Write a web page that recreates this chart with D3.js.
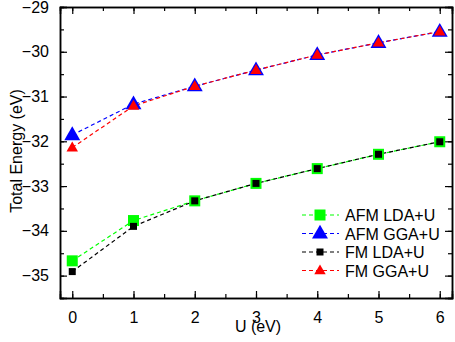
<!DOCTYPE html>
<html>
<head>
<meta charset="utf-8">
<script src="https://cdn.jsdelivr.net/npm/d3@7"></script>
<style>
  body { margin: 0; background: #fff; }
  text { font-family: "Liberation Sans", Arial, sans-serif; fill: #000; }
</style>
</head>
<body>
<div id="plot"></div>
<script>
var uValues = [0, 1, 2, 3, 4, 5, 6];
var afmLda = [-34.67, -33.77, -33.33, -32.94, -32.61, -32.29, -32.01];
var afmGga = [-31.86, -31.17, -30.77, -30.41, -30.07, -29.80, -29.55];
var fmLda = [-34.91, -33.90, -33.33, -32.94, -32.61, -32.29, -32.01];
var fmGga = [-32.14, -31.21, -30.77, -30.41, -30.07, -29.80, -29.55];
var seriesNames = ['AFM LDA+U', 'AFM GGA+U', 'FM LDA+U', 'FM GGA+U'];
var xTicks = [0, 1, 2, 3, 4, 5, 6];
var yTicks = [-35, -34, -33, -32, -31, -30, -29];

var width = 455, height = 342;
var plotLeft = 60, plotRight = 452, plotTop = 7, plotBottom = 298;

var svg = d3.select('#plot')
    .append('svg')
    .attr('width', width)
    .attr('height', height);

var x = d3.scaleLinear().domain([-0.2, 6.2]).range([plotLeft, plotRight]);
var y = d3.scaleLinear().domain([-35.5, -29]).range([plotBottom, plotTop]);

var series = [
    { name: seriesNames[0], values: afmLda, color: '#00ff00', marker: 'square', size: 11 },
    { name: seriesNames[1], values: afmGga, color: '#0000ff', marker: 'triangle', size: 16 },
    { name: seriesNames[2], values: fmLda, color: '#000000', marker: 'square', size: 7 },
    { name: seriesNames[3], values: fmGga, color: '#ff0000', marker: 'triangle', size: 11.5 }
];

// ticks, inside, on all sides
var minorX = d3.range(0, 6.01, 0.5);
var minorY = d3.range(-35.5, -28.99, 0.5);

svg.append('g')
    .attr('transform', 'translate(0,' + plotBottom + ')')
    .call(d3.axisBottom(x).tickValues(minorX).tickSize(-4).tickFormat(''));
svg.append('g')
    .attr('transform', 'translate(0,' + plotBottom + ')')
    .call(d3.axisBottom(x).tickValues(xTicks).tickSize(-7).tickPadding(14).tickFormat(d3.format('d')));
svg.append('g')
    .attr('transform', 'translate(0,' + plotTop + ')')
    .call(d3.axisTop(x).tickValues(minorX).tickSize(-4).tickFormat(''));
svg.append('g')
    .attr('transform', 'translate(0,' + plotTop + ')')
    .call(d3.axisTop(x).tickValues(xTicks).tickSize(-7).tickFormat(''));

svg.append('g')
    .attr('transform', 'translate(' + plotLeft + ',0)')
    .call(d3.axisLeft(y).tickValues(minorY).tickSize(-4).tickFormat(''));
svg.append('g')
    .attr('transform', 'translate(' + plotLeft + ',0)')
    .call(d3.axisLeft(y).tickValues(yTicks).tickSize(-7).tickPadding(11).tickFormat(d3.format('d')));
svg.append('g')
    .attr('transform', 'translate(' + plotRight + ',0)')
    .call(d3.axisRight(y).tickValues(minorY).tickSize(-4).tickFormat(''));
svg.append('g')
    .attr('transform', 'translate(' + plotRight + ',0)')
    .call(d3.axisRight(y).tickValues(yTicks).tickSize(-7).tickFormat(''));

svg.selectAll('.domain').attr('stroke', '#000').attr('stroke-width', 1.5);
svg.selectAll('.tick line').attr('stroke', '#000').attr('stroke-width', 1.2);
svg.selectAll('.tick text')
    .style('font-size', '16px')
    .style('font-family', '"Liberation Sans", Arial, sans-serif');

// lines
var line = d3.line()
    .x(function (d, i) { return x(uValues[i]); })
    .y(function (d) { return y(d); });

series.forEach(function (s) {
    svg.append('path')
        .attr('d', line(s.values))
        .attr('fill', 'none')
        .attr('stroke', s.color)
        .attr('stroke-width', 1.2)
        .attr('stroke-dasharray', '4,3');
});

function drawMarker(g, s, cx, cy) {
    if (s.marker === 'square') {
        g.append('rect')
            .attr('x', cx - s.size / 2)
            .attr('y', cy - s.size / 2)
            .attr('width', s.size)
            .attr('height', s.size)
            .attr('fill', s.color);
    } else {
        var sym = d3.symbol().type(d3.symbolTriangle).size(s.size * s.size * 0.43);
        g.append('path')
            .attr('d', sym())
            .attr('transform', 'translate(' + cx + ',' + (cy + 0.5) + ')')
            .attr('fill', s.color);
    }
}

series.forEach(function (s) {
    var g = svg.append('g');
    s.values.forEach(function (v, i) {
        drawMarker(g, s, x(uValues[i]), y(v));
    });
});

// legend
var legend = svg.append('g');
series.forEach(function (s, i) {
    var ly = 215 + i * 18.5;
    legend.append('line')
        .attr('x1', 302).attr('x2', 339)
        .attr('y1', ly).attr('y2', ly)
        .attr('stroke', s.color)
        .attr('stroke-width', 1.2)
        .attr('stroke-dasharray', '4,3');
    drawMarker(legend, s, 320, ly);
    legend.append('text')
        .attr('x', 345)
        .attr('y', ly + 6)
        .style('font-size', '16px')
        .text(s.name);
});

// axis titles
svg.append('text')
    .attr('x', 258)
    .attr('y', 332)
    .attr('text-anchor', 'middle')
    .style('font-size', '16px')
    .text('U (eV)');

svg.append('text')
    .attr('transform', 'translate(22,' + 151 + ') rotate(-90)')
    .attr('text-anchor', 'middle')
    .style('font-size', '16px')
    .text('Total Energy (eV)');
</script>
</body>
</html>
